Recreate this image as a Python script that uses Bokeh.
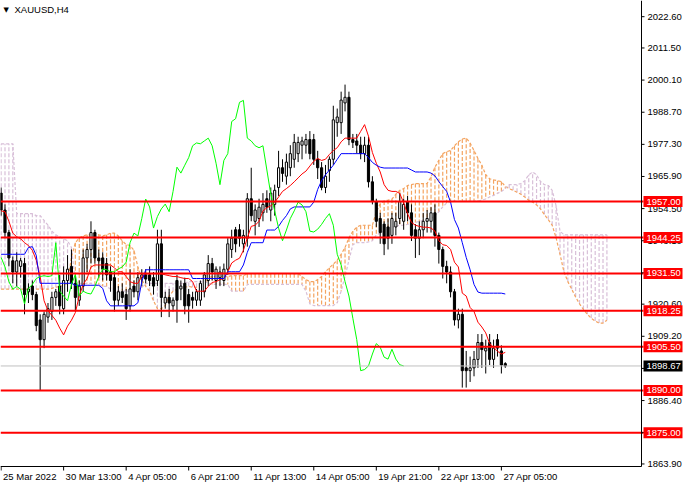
import numpy as np
from bokeh.plotting import figure
from bokeh.models import Range1d, Label
from bokeh.core.properties import value
from bokeh.embed import file_html
from bokeh.resources import INLINE

chart_title = "XAUUSD,H4"

# ---- H4 candles (bar 0 = 25 Mar 2022 21:00) ----
open_ = [1960,1954,1946,1936,1932,1934,1935,1925,1927,1924,
         1915,1908,1916,1918,1923,1927,1919,1929,1934,1928,
         1922,1927,1937,1940,1946,1937,1937,1935,1932,1930,
         1922,1925,1924,1920,1927,1925,1930,1931,1931,1930,
         1929,1942,1921,1923,1920,1929,1926,1928,1924,1923,
         1922,1922,1925,1929,1935,1929,1930,1929,1933,1940,
         1947,1947,1942,1944,1958,1950,1951,1953,1958,1954,
         1956,1962,1969,1966,1969,1972,1974,1977,1977,1979,
         1979,1972,1969,1962,1968,1972,1985,1985,1992,1994,
         1979,1978.5,1977,1974,1977,1964,1957,1951,1949,1948,
         1945,1948,1951,1950,1957,1953,1947,1944,1947,1950,
         1950,1953,1945,1940,1934,1932,1925,1915,1917,1898,
         1897,1898,1901,1907,1904,1907,1901,1908,1904,1899.5]
high = [1962,1956,1947,1937.5,1939,1937,1937,1928,1929,1925,
        1917,1918,1921,1925,1926,1931,1934,1938,1940,1931,
        1929,1940,1942,1950,1947,1940,1939,1937,1934,1932,
        1927,1928,1926,1933,1929,1932,1933,1933,1934,1932,
        1947,1947,1925,1926,1923,1931,1929,1930,1926,1925,
        1926,1929,1932,1938,1937,1934,1934,1935,1944,1947,
        1948,1949,1947,1960,1969,1956,1958,1960,1961,1962,
        1963,1975,1972,1974,1977,1981,1980,1980,1981,1982,
        1981,1975,1971,1970,1973,1991,1990,1996,1998.5,1996,
        1981,1981,1980,1980,1980,1966,1958,1953,1950,1951,
        1953,1953,1960,1958,1959,1956,1949,1950,1953,1954,
        1955,1956,1946,1941,1936,1934,1926,1919,1919,1904,
        1902,1904,1910,1910,1908,1910,1908,1910,1906,1900]
low = [1952,1944,1934,1928,1927,1930,1917,1921,1922,1911,
       1890,1905,1914,1915,1920,1917,1917,1925,1926,1918,
       1920,1925,1932,1935,1935,1930,1929,1929,1925,1918,
       1920,1921,1915,1918,1923,1922,1927,1928,1927,1924,
       1927,1916,1919,1916,1918,1914,1922,1917,1914,1919,
       1920,1920,1923,1927,1929,1926,1927,1927,1931,1937,
       1939,1941,1939,1941,1950,1945,1948,1950,1953,1950,
       1952,1959,1964,1963,1966,1969,1971,1972,1974,1972,
       1970,1965,1961,1960,1964,1970,1980,1981,1989,1977,
       1976,1974,1972,1971,1962,1956,1948,1942,1938,1940,
       1942,1945,1949,1947,1950,1943,1937,1938,1944,1946,
       1946,1941,1935,1929.7,1928,1923,1913,1912,1891,1891,
       1893,1895,1898,1898,1896,1899,1898,1902,1896,1898]
close = [1954,1946,1937,1932,1936,1936,1924,1926,1924,1913,
         1908,1917,1919,1923,1925,1920,1929,1933,1928,1923,
         1927,1937,1940,1946,1937,1936,1933,1931,1929,1922,
         1925,1923,1919,1926,1925,1930,1931,1929.5,1929,1927,
         1942,1923,1923,1921,1922,1922,1927,1920,1920,1922,
         1925,1928,1931,1935,1932,1933,1932,1933,1942,1944,
         1942,1944,1945,1958,1952,1954,1955,1956,1955,1960,
         1961,1969,1967,1971,1974,1978,1978,1978.5,1979,1974,
         1972,1969,1962,1966,1972,1986,1987,1993,1994,1979,
         1978,1977,1974,1977,1964,1957,1950,1946,1942,1944,
         1951,1950,1957,1956,1953,1945,1944,1947,1950,1951,
         1953,1945,1940,1934,1932,1925,1915,1917,1897,1897,
         1898,1901,1907,1904.5,1905,1901,1905,1905,1899,1898.67]

# ---- Ichimoku lines ----
tenkan = [1953.7,1953.4,1950.0,1945.8,1944.5,1943.8,1942.4,1941.4,1939.7,1936.2,
          1930.4,1921.8,1918.3,1916.6,1914.9,1912.1,1909.7,1912.8,1914.9,1917.6,
          1923.5,1927.6,1929.7,1933.8,1934.5,1934.5,1934.5,1934.5,1934.5,1933.5,
          1932.1,1932.1,1930.4,1928.6,1928.0,1928.0,1930.4,1931.4,1931.4,1931.4,
          1931.4,1931.4,1931.0,1930.7,1930.4,1930.4,1930.0,1929.7,1929.7,1928.6,
          1925.2,1925.2,1925.2,1926.9,1928.3,1928.6,1929.3,1929.7,1932.1,1935.2,
          1936.2,1936.9,1939.7,1944.1,1948.2,1948.6,1950.0,1953.7,1954.8,1955.5,
          1956.8,1958.6,1960.6,1961.6,1962.7,1964.0,1965.4,1966.8,1967.8,1969.6,
          1971.3,1972.3,1971.6,1972.0,1973.7,1975.1,1976.1,1978.2,1979.5,1979.5,
          1979.5,1979.5,1981.9,1984.3,1980.2,1974.4,1970.6,1967.5,1963.0,1961.0,
          1960.6,1960.6,1959.9,1956.5,1952.7,1949.6,1948.6,1948.2,1947.9,1947.9,
          1947.6,1946.5,1943.1,1941.7,1941.4,1940.0,1935.5,1933.8,1924.5,1923.5,
          1919.4,1918.0,1914.2,1912.5,1910.4,1906.6,1905.3,1903.9,1902.9,1903.5]
kijun = [1938.3,1938.3,1938.3,1938.3,1938.3,1938.3,1938.3,1940.7,1941.0,1937.9,
         1928.0,1928.0,1928.0,1928.0,1928.0,1928.0,1928.0,1928.0,1928.0,1927.3,
         1927.3,1927.3,1927.3,1927.3,1927.3,1927.3,1926.2,1921.8,1920.0,1920.0,
         1920.0,1920.0,1920.0,1920.0,1920.0,1921.1,1928.6,1932.8,1932.8,1932.8,
         1932.8,1932.8,1932.8,1932.8,1932.8,1932.8,1932.8,1932.8,1932.8,1929.7,
         1929.7,1929.7,1929.7,1929.7,1929.7,1929.7,1929.7,1929.7,1932.1,1932.1,
         1932.1,1932.1,1934.5,1939.0,1942.4,1942.4,1942.4,1942.4,1946.9,1946.9,
         1946.9,1948.2,1950.3,1952.0,1954.4,1955.1,1955.1,1955.1,1955.1,1955.1,
         1956.8,1961.3,1964.4,1966.5,1968.2,1969.9,1972.0,1974.0,1974.0,1974.0,
         1974.0,1974.0,1974.0,1974.0,1972.6,1970.9,1969.9,1969.2,1968.9,1968.9,
         1968.9,1968.9,1968.9,1968.9,1968.9,1968.2,1967.5,1967.5,1967.5,1967.5,
         1967.1,1966.1,1964.1,1962.3,1960.6,1956.8,1950.6,1947.6,1942.4,1937.2,
         1932.8,1927.6,1924.9,1924.5,1924.5,1924.5,1924.5,1924.5,1924.5,1924.2]
chikou = [1937.2,1933.8,1928.6,1925.9,1926.9,1925.9,1920.7,1926.2,1927.6,1929.7,
          1930.4,1930.7,1930.4,1930.7,1942.4,1925.2,1923.5,1921.8,1927.6,1931.1,
          1923.5,1925.2,1924.5,1924.2,1926.9,1930.4,1933.1,1932.8,1932.1,1932.1,
          1933.1,1933.8,1935.5,1942.4,1945.8,1944.8,1951.0,1957.9,1955.1,1947.6,
          1951.7,1954.4,1956.1,1953.4,1960.6,1969.2,1967.1,1969.9,1972.6,1976.8,
          1977.8,1977.5,1978.5,1979.5,1976.8,1970.6,1963.0,1971.6,1974.0,1985.4,
          1986.4,1992.2,1992.9,1979.5,1978.5,1976.8,1976.1,1976.8,1968.2,1959.6,
          1953.7,1947.6,1943.1,1946.9,1951.0,1953.7,1956.8,1955.8,1953.4,1946.5,
          1946.2,1947.2,1948.9,1951.0,1952.7,1948.6,1938.3,1934.5,1928.6,1923.5,
          1915.6,1908.0,1897.0,1897.4,1898.7,1902.9,1906.6,1905.3,1901.8,1901.1,
          1904.6,1901.1,1899.1,1898.7]
span_a = [1925.9,1925.9,1925.9,1925.9,1925.9,1925.9,1925.9,1925.9,1925.9,1925.9,
          1925.9,1925.9,1925.9,1926.2,1926.6,1926.9,1927.3,1928.0,1937.2,1942.4,
          1944.1,1944.8,1945.2,1945.2,1945.8,1945.2,1944.8,1945.2,1945.8,1945.8,
          1944.8,1943.1,1941.7,1941.4,1939.7,1933.8,1929.3,1926.9,1925.2,1921.8,
          1919.0,1919.0,1920.1,1923.5,1925.2,1925.9,1926.6,1926.6,1926.9,1926.6,
          1926.6,1926.6,1927.3,1930.0,1930.4,1930.4,1930.4,1930.4,1930.4,1930.7,
          1930.7,1930.7,1930.7,1931.4,1931.4,1931.4,1931.4,1931.4,1931.4,1931.4,
          1931.4,1931.4,1931.4,1931.4,1931.4,1931.4,1931.4,1930.4,1929.3,1928.6,
          1928.6,1929.3,1930.4,1932.1,1933.5,1934.8,1936.2,1938.3,1940.7,1944.1,
          1946.5,1947.9,1948.6,1948.6,1948.6,1948.6,1953.4,1956.2,1957.2,1957.5,
          1957.9,1959.6,1961.0,1961.6,1962.7,1963.0,1963.4,1963.4,1963.4,1963.4,
          1965.8,1969.2,1971.6,1974.0,1974.7,1975.1,1976.8,1978.2,1979.2,1979.5,
          1977.8,1975.1,1972.3,1969.9,1966.5,1965.1,1964.7,1964.4,1964.1,1962.3,
          1961.6,1961.0,1960.3,1959.6,1958.6,1957.5,1956.8,1955.8,1954.4,1952.4,
          1950.6,1948.6,1944.1,1938.3,1932.1,1928.6,1925.9,1923.1,1920.7,1918.7,
          1917.0,1915.6,1914.6,1913.9,1913.9,1914.9]
span_b = [1977.5,1977.5,1977.5,1977.5,1952.7,1952.7,1952.7,1952.7,1952.7,1952.0,
          1952.0,1950.3,1948.6,1946.5,1945.2,1944.5,1943.8,1943.1,1940.7,1928.6,
          1928.0,1928.0,1928.0,1928.0,1927.6,1927.6,1926.9,1926.9,1925.9,1925.9,
          1925.2,1925.2,1925.2,1925.2,1925.2,1925.9,1926.6,1928.0,1928.0,1928.0,
          1928.0,1928.0,1928.0,1928.0,1928.0,1928.0,1928.0,1928.0,1928.6,1928.6,
          1928.6,1928.6,1928.6,1928.0,1927.6,1927.6,1927.6,1927.6,1927.6,1925.2,
          1925.2,1925.2,1925.2,1927.6,1927.6,1927.6,1927.6,1927.6,1927.6,1927.6,
          1927.6,1927.6,1927.6,1927.6,1927.6,1927.6,1927.6,1927.6,1925.2,1920.7,
          1920.1,1920.1,1920.1,1920.1,1920.1,1920.1,1921.1,1925.2,1930.4,1936.2,
          1941.7,1942.4,1942.4,1942.4,1942.7,1943.1,1945.2,1945.8,1946.5,1947.2,
          1947.9,1948.2,1948.6,1948.6,1948.9,1949.3,1949.6,1950.0,1950.3,1950.3,
          1951.0,1952.0,1953.4,1955.1,1956.5,1956.8,1957.2,1957.2,1957.2,1957.2,
          1957.2,1957.2,1957.2,1957.5,1957.9,1958.6,1959.2,1959.9,1960.6,1961.6,
          1963.0,1963.0,1963.0,1963.4,1964.4,1966.5,1967.5,1966.5,1964.1,1963.0,
          1962.7,1961.0,1955.5,1946.5,1945.2,1945.2,1945.2,1945.2,1945.2,1945.2,
          1945.2,1945.2,1945.2,1945.2,1945.2,1945.2]

levels = [1957.00, 1944.25, 1931.50, 1918.25, 1905.50, 1890.00, 1875.00]
bid = 1898.67
price_ticks = [2022.60, 2011.50, 2000.10, 1988.70, 1977.30, 1965.90, 1954.50, 1943.10,
               1931.70, 1920.60, 1909.20, 1897.80, 1886.40, 1875.00, 1863.90]
date_tick_bars = [0, 16, 32, 48, 64, 80, 96, 112, 128]
date_labels = ["25 Mar 2022", "30 Mar 13:00", "4 Apr 05:00", "6 Apr 21:00", "11 Apr 13:00",
               "14 Apr 05:00", "19 Apr 21:00", "22 Apr 13:00", "27 Apr 05:00"]

FONT = value("Liberation Sans")
FS = value("9.5px")

# canvas / chart geometry (pixels)
W, H = 684, 484
PLOT_W, PLOT_H = 641, 466
X0, BARS_IN_PLOT = -0.15, 164.0
Y_TOP, Y_AX = 2028.34, 1863.0
PX_X = BARS_IN_PLOT / PLOT_W
PX_Y = (Y_TOP - Y_AX) / PLOT_H
X_AX = X0 + BARS_IN_PLOT
X_END = X0 + W * PX_X
Y_BOT = Y_TOP - H * PX_Y

p = figure(width=W, height=H, output_backend="svg", toolbar_location=None,
           x_range=Range1d(X0, X_END), y_range=Range1d(Y_BOT, Y_TOP),
           x_axis_location=None, y_axis_location=None,
           min_border_left=0, min_border_top=0, min_border_right=0, min_border_bottom=0)
p.outline_line_color = None
p.xgrid.visible = False
p.ygrid.visible = False
p.background_fill_color = "white"
p.border_fill_color = "white"

# cloud (dotted histogram between Senkou spans + dotted span lines)
xc = np.arange(len(span_a))
a = np.array(span_a); b = np.array(span_b)
up = a >= b
p.segment(x0=xc[up], y0=a[up], x1=xc[up], y1=b[up], line_color="#F4A460",
          line_width=1.2, line_dash="4 2")
p.segment(x0=xc[~up], y0=a[~up], x1=xc[~up], y1=b[~up], line_color="#D8BFD8",
          line_width=1.2, line_dash="4 2")
p.line(xc, a, line_color="#F4A460", line_width=1.2, line_dash="3 2")
p.line(xc, b, line_color="#D8BFD8", line_width=1.2, line_dash="3 2")

# candles
xb = np.arange(len(close))
o = np.array(open_); c = np.array(close)
p.segment(x0=xb, y0=low, x1=xb, y1=high, line_color="black", line_width=1)
bull = c >= o
p.vbar(x=xb[bull], bottom=o[bull], top=c[bull], width=0.55, fill_color="white",
       line_color="black", line_width=1)
p.vbar(x=xb[~bull], bottom=c[~bull], top=o[~bull], width=0.55, fill_color="black",
       line_color="black", line_width=1)

# ichimoku lines
p.line(xb, tenkan, line_color="#FF0000", line_width=1)
p.line(xb, kijun, line_color="#0000FF", line_width=1)
p.line(np.arange(len(chikou)), chikou, line_color="#00FF00", line_width=1)

# bid line and horizontal levels
p.segment(x0=X0, x1=X_AX, y0=bid, y1=bid, line_color="#C0C0C0", line_width=1)
p.segment(x0=[X0] * len(levels), x1=[X_AX + 2 * PX_X] * len(levels), y0=levels, y1=levels,
          line_color="#FF0000", line_width=2)

# frame lines (price scale on the right, time scale below)
p.segment(x0=X_AX, x1=X_AX, y0=Y_AX, y1=Y_TOP, line_color="black", line_width=1)
p.segment(x0=X0, x1=X_AX, y0=Y_AX, y1=Y_AX, line_color="black", line_width=1)

# price scale
p.segment(x0=[X_AX] * len(price_ticks), x1=[X_AX + 3 * PX_X] * len(price_ticks),
          y0=price_ticks, y1=price_ticks, line_color="black", line_width=1)
p.text(x=[X_AX + 6 * PX_X] * len(price_ticks), y=price_ticks,
       text=[f"{t:.2f}" for t in price_ticks], text_font=FONT, text_font_size=FS,
       text_color="black", text_align="left", text_baseline="middle")

# time scale
xt = np.array(date_tick_bars, dtype=float)
p.segment(x0=xt, x1=xt, y0=Y_AX, y1=Y_AX - 4 * PX_Y, line_color="black", line_width=1)
p.text(x=xt + 2 * PX_X, y=[Y_AX - 4 * PX_Y] * len(xt), text=date_labels,
       text_font=FONT, text_font_size=FS, text_color="black",
       text_align="left", text_baseline="top")

# price boxes on the scale
box_x = X_AX + 21.5 * PX_X
p.rect(x=[box_x] * len(levels), y=levels, width=39, height=11,
       width_units="screen", height_units="screen", fill_color="#FF0000", line_color=None)
p.text(x=[X_AX + 5 * PX_X] * len(levels), y=levels, text=[f"{lv:.2f}" for lv in levels],
       text_font=FONT, text_font_size=FS, text_color="white",
       text_align="left", text_baseline="middle")
p.rect(x=[box_x], y=[bid], width=39, height=11, width_units="screen",
       height_units="screen", fill_color="black", line_color=None)
p.text(x=[X_AX + 5 * PX_X], y=[bid], text=[f"{bid:.2f}"], text_font=FONT,
       text_font_size=FS, text_color="white", text_align="left", text_baseline="middle")

# title
p.add_layout(Label(x=3, y=H - 5, x_units="screen", y_units="screen", text="\u25bc",
                   text_font="DejaVu Sans", text_font_size="7px", text_color="black",
                   text_baseline="top"))
p.add_layout(Label(x=14, y=H - 3, x_units="screen", y_units="screen", text=chart_title,
                   text_font="Liberation Sans", text_font_size="9.5px", text_color="black",
                   text_baseline="top"))

open("out.html", "w").write(file_html(p, INLINE))
